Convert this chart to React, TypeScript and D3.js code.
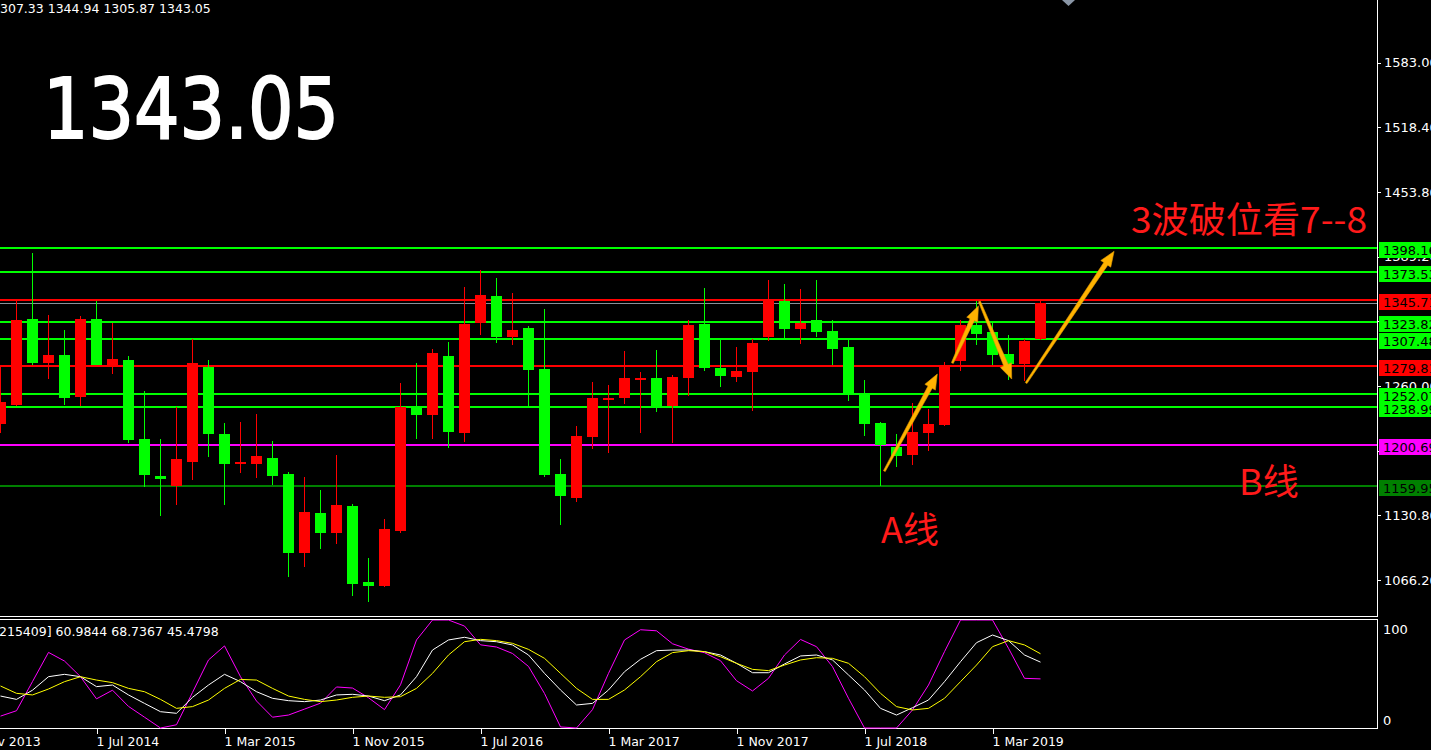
import React from 'react';
import * as d3 from 'd3';

const W = 1431;
const H = 750;

// monthly XAUUSD candles, Jan 2014 .. Jun 2019
const opens = [1222, 1241, 1327, 1283, 1291, 1249, 1327, 1281, 1286, 1207, 1170, 1160, 1184, 1279, 1212, 1182, 1182, 1188, 1172, 1093, 1133, 1113, 1140, 1064, 1060, 1115, 1239, 1231, 1290, 1213, 1323, 1350, 1309, 1318, 1277, 1172, 1148, 1209, 1246, 1248, 1266, 1268, 1240, 1268, 1322, 1278, 1269, 1274, 1309, 1345, 1317, 1326, 1315, 1299, 1252, 1223, 1199, 1191, 1213, 1221, 1285, 1321, 1314, 1292, 1282, 1307.33];
const highs = [1280, 1345, 1393, 1331, 1316, 1330, 1345, 1323, 1290, 1255, 1207, 1239, 1307, 1286, 1223, 1224, 1232, 1205, 1174, 1169, 1156, 1191, 1142, 1088, 1127, 1263, 1283, 1297, 1304, 1359, 1376, 1368, 1353, 1320, 1337, 1187, 1220, 1264, 1261, 1295, 1274, 1296, 1271, 1326, 1358, 1306, 1299, 1307, 1366, 1362, 1357, 1366, 1326, 1307, 1266, 1224, 1212, 1243, 1237, 1284, 1326, 1345, 1323, 1311, 1307, 1344.94];
const lows = [1213, 1240, 1281, 1267, 1241, 1240, 1281, 1272, 1203, 1159, 1130, 1141, 1166, 1189, 1141, 1173, 1168, 1161, 1069, 1079, 1097, 1102, 1050, 1044, 1059, 1113, 1207, 1207, 1198, 1204, 1311, 1303, 1301, 1240, 1169, 1121, 1144, 1197, 1193, 1242, 1213, 1234, 1203, 1250, 1275, 1259, 1264, 1235, 1305, 1306, 1302, 1309, 1281, 1245, 1210, 1160, 1179, 1181, 1195, 1220, 1275, 1301, 1281, 1266, 1265, 1305.87];
const closes = [1244, 1326, 1283, 1291, 1248, 1327, 1281, 1287, 1206, 1171, 1167, 1187, 1283, 1212, 1182, 1184, 1190, 1170, 1093, 1134, 1113, 1141, 1062, 1060, 1117, 1239, 1231, 1293, 1214, 1322, 1351, 1309, 1316, 1276, 1171, 1150, 1210, 1248, 1248, 1268, 1268, 1239, 1269, 1321, 1278, 1270, 1275, 1303, 1346, 1317, 1323, 1314, 1297, 1252, 1222, 1201, 1190, 1214, 1222, 1280, 1321, 1312, 1291, 1282, 1305, 1343.05];

// oscillator panel
const stochFast = [11, 16, 43, 70, 62, 47.5, 27, 35, 20, 10, 0, 3, 33, 63, 76, 47.5, 25, 10, 12, 17.5, 23, 38, 37, 28, 17, 40, 81.5, 100, 100, 94.4, 77, 75, 69, 57, 32, 1, 0, 17, 50.6, 81.5, 91, 90, 78, 73, 69.7, 62.3, 43.8, 34.3, 46, 67.6, 82, 75.3, 56.8, 27.5, 0, 0, 0, 16.7, 39.8, 70.7, 100, 100, 100, 73.8, 46, 45.4798];
const stochMain = [29.6, 26.5, 35, 47.5, 49.7, 47.5, 38.3, 39.8, 30.6, 22.8, 15.1, 13.6, 28.4, 39.8, 49.7, 42.9, 33.6, 27.5, 25.3, 24.4, 25.9, 30.6, 31.2, 29.6, 25.3, 30.6, 47.5, 72.2, 81.5, 84, 80.9, 79.9, 76.9, 67.6, 50.6, 35.2, 21.3, 22.8, 35.2, 52.1, 63.6, 71.6, 72.2, 72.2, 70.7, 67.6, 59.9, 51.2, 51.2, 59.3, 66.7, 67.6, 63, 49.1, 35.2, 18.2, 12, 18.8, 25.9, 42.9, 61.4, 79, 86.1, 80.9, 67.6, 60.9844];
const stochSignal = [38.9, 32.1, 30.6, 36.1, 42.9, 47.5, 44.4, 42, 36.7, 33.6, 26.5, 18.2, 19.8, 25.9, 36.7, 45, 44.4, 36.7, 29.6, 26.5, 24.4, 25.9, 28.4, 29.6, 28.4, 29, 36.7, 50.6, 67.6, 79.9, 82.1, 80.9, 78.4, 72.8, 64.5, 50.6, 36.7, 26.5, 26.5, 35.2, 47.5, 61.4, 69.8, 71.6, 70.7, 66, 59.9, 54.3, 53.1, 58.3, 63, 65.1, 64.5, 59.9, 47.5, 32.1, 19.8, 16.7, 18.2, 27.5, 42.9, 58.3, 75.3, 80.9, 76.9, 68.7367];

const levelPrices = [1398.16, 1373.53, 1345.71, 1323.82, 1307.48, 1279.81, 1252.07, 1238.99, 1200.69, 1159.95];
const levelKinds = ['green', 'green', 'red', 'green', 'green', 'red', 'green', 'green', 'magenta', 'dark'];
const kindColor: Record<string, string> = { green: '#00ff00', red: '#ff0000', magenta: '#ff00ff', dark: '#008000' };

const priceTicks = [1583.0, 1518.4, 1453.8, 1389.2, 1324.6, 1260.0, 1195.4, 1130.8, 1066.2];
const timeTicks = ['1 Nov 2013', '1 Jul 2014', '1 Mar 2015', '1 Nov 2015', '1 Jul 2016', '1 Mar 2017', '1 Nov 2017', '1 Jul 2018', '1 Mar 2019'];

// hand drawn arrows, [month index, price]
const arrowFrom = [[55.24, 1175], [59.49, 1283], [61.18, 1344.6], [64.1, 1263]];
const arrowTo = [[58.55, 1272], [61.12, 1340], [63.2, 1267], [69.6, 1394.6]];

const lastPrice = 1343.05;

const monthIndex = (label: string) => {
  const d = d3.timeParse('%d %b %Y')(label)!;
  return (d.getFullYear() - 2014) * 12 + d.getMonth();
};

const fmt = d3.format('.2f');

function arrowShape(x1: number, y1: number, x2: number, y2: number) {
  const dx = x2 - x1, dy = y2 - y1;
  const len = Math.hypot(dx, dy);
  const ux = dx / len, uy = dy / len;
  const px = -uy, py = ux;
  const head = 15, hw = 6, tail = 1, base = 2.4;
  const bx = x2 - ux * head, by = y2 - uy * head;
  const pts = [
    [x1 + px * tail, y1 + py * tail],
    [bx + px * base, by + py * base],
    [bx + px * hw, by + py * hw],
    [x2, y2],
    [bx - px * hw, by - py * hw],
    [bx - px * base, by - py * base],
    [x1 - px * tail, y1 - py * tail],
  ];
  return 'M' + pts.map(p => p.join(',')).join('L') + 'Z';
}

const App: React.FC = () => {
  const plotRight = 1377;
  const mainBottom = 616;
  const x = d3.scaleLinear().domain([0, 1]).range([0.5, 16.5]);
  const y = d3.scaleLinear().domain([1066.2, 1583]).range([580, 62.8]);
  const yi = d3.scaleLinear().domain([0, 100]).range([728, 620]);

  const line = d3.line<number>().x((_, i) => x(i)).y(d => yi(d));
  const font = '"DejaVu Sans", sans-serif';
  const cjk = '"Noto Sans CJK SC", sans-serif';

  return (
    <svg width={W} height={H} style={{ position: 'absolute', left: 0, top: 0, display: 'block' }}>
      <defs>
        <clipPath id="main"><rect x={0} y={0} width={plotRight} height={mainBottom} /></clipPath>
        <clipPath id="osc"><rect x={0} y={620} width={plotRight} height={109} /></clipPath>
      </defs>
      <rect width={W} height={H} fill="#000" />

      <g clipPath="url(#main)">
        {levelPrices.map((p, i) => (
          <line key={'l' + i} x1={0} x2={plotRight} y1={Math.round(y(p))} y2={Math.round(y(p))}
            stroke={kindColor[levelKinds[i]]} strokeWidth={2} />
        ))}
        <line x1={0} x2={plotRight} y1={Math.round(y(lastPrice)) + 0.5} y2={Math.round(y(lastPrice)) + 0.5} stroke="#8a8f99" strokeWidth={1} />
        {opens.map((o, i) => {
          const c = closes[i];
          const col = c >= o ? '#ff0000' : '#00ff00';
          const top = Math.round(y(Math.max(o, c)));
          const bot = Math.round(y(Math.min(o, c)));
          return (
            <g key={'c' + i}>
              <line x1={x(i)} x2={x(i)} y1={Math.round(y(highs[i]))} y2={Math.round(y(lows[i]))} stroke={col} strokeWidth={1} />
              <rect x={x(i) - 5.5} y={top} width={11} height={Math.max(2, bot - top)} fill={col} />
            </g>
          );
        })}
        {arrowFrom.map((f, i) => (
          <path key={'a' + i} d={arrowShape(x(f[0]), y(f[1]), x(arrowTo[i][0]), y(arrowTo[i][1]))}
            fill="#ffb300" stroke="#e09a00" strokeWidth={0.6} />
        ))}
      </g>

      {/* chart shift marker */}
      <path d="M1062,0L1075,0L1068.5,6Z" fill="#8a96a6" />

      <text x={0} y={13} fill="#fff" fontFamily={font} fontSize={12.5}>307.33 1344.94 1305.87 1343.05</text>
      <text x={43} y={138} fill="#fff" stroke="#fff" strokeWidth={2} fontFamily='"DejaVu Sans", sans-serif' fontSize={84}
        textLength={296} lengthAdjust="spacingAndGlyphs">{fmt(lastPrice)}</text>

      <text x={1131} y={233} fill="#ff1a1a" fontFamily={cjk} fontSize={36}
        textLength={236} lengthAdjust="spacingAndGlyphs">3波破位看7--8</text>
      <text x={881} y={543} fill="#ff1a1a" fontFamily={cjk} fontSize={36}>A线</text>
      <text x={1239} y={495} fill="#ff1a1a" fontFamily={cjk} fontSize={36}>B线</text>

      {/* frames */}
      <line x1={plotRight + 0.5} x2={plotRight + 0.5} y1={0} y2={mainBottom} stroke="#fff" />
      <line x1={0} x2={plotRight + 1} y1={mainBottom + 0.5} y2={mainBottom + 0.5} stroke="#fff" />
      <line x1={0} x2={plotRight + 1} y1={619.5} y2={619.5} stroke="#fff" />
      <line x1={plotRight + 0.5} x2={plotRight + 0.5} y1={619} y2={729} stroke="#fff" />
      <line x1={0} x2={plotRight + 1} y1={728.5} y2={728.5} stroke="#fff" />

      {/* price axis */}
      {priceTicks.map(t => (
        <g key={'pt' + t}>
          <line x1={plotRight} x2={plotRight + 4} y1={Math.round(y(t)) + 0.5} y2={Math.round(y(t)) + 0.5} stroke="#fff" />
          <text x={1384} y={y(t)} dy="0.36em" fill="#fff" fontFamily={font} fontSize={13}>{fmt(t)}</text>
        </g>
      ))}
      {levelPrices.map((p, i) => {
        const yy = Math.round(y(p));
        return (
          <g key={'lb' + i}>
            <line x1={plotRight - 4} x2={plotRight} y1={yy} y2={yy} stroke={kindColor[levelKinds[i]]} strokeWidth={2} />
            <rect x={1379} y={yy - 6} width={W - 1379} height={16} fill={kindColor[levelKinds[i]]} />
            <text x={1383} y={yy + 2} dy="0.36em" fill="#000" fontFamily={font} fontSize={13}>{fmt(p)}</text>
          </g>
        );
      })}

      {/* oscillator */}
      <g clipPath="url(#osc)" fill="none" strokeWidth={1}>
        <path d={line(stochFast)!} stroke="#ff00ff" />
        <path d={line(stochMain)!} stroke="#ffffff" />
        <path d={line(stochSignal)!} stroke="#ffff00" />
      </g>
      <text x={-1} y={631} dy="0.36em" fill="#fff" fontFamily={font} fontSize={12.5}>
        {'215409] ' + [stochMain, stochSignal, stochFast].map(s => d3.format('.4f')(s[s.length - 1])).join(' ')}
      </text>
      <text x={1383} y={yi(100) + 9} dy="0.36em" fill="#fff" fontFamily={font} fontSize={13}>100</text>
      <text x={1383} y={yi(0) - 8} dy="0.36em" fill="#fff" fontFamily={font} fontSize={13}>0</text>

      {/* time axis */}
      {timeTicks.map(t => {
        const tx = Math.round(x(monthIndex(t))) + 0.5;
        return (
          <g key={t}>
            <line x1={tx} x2={tx} y1={729} y2={734} stroke="#fff" />
            <text x={tx - 1} y={746} fill="#fff" fontFamily={font} fontSize={12.5}>{t}</text>
          </g>
        );
      })}
    </svg>
  );
};

export default App;
